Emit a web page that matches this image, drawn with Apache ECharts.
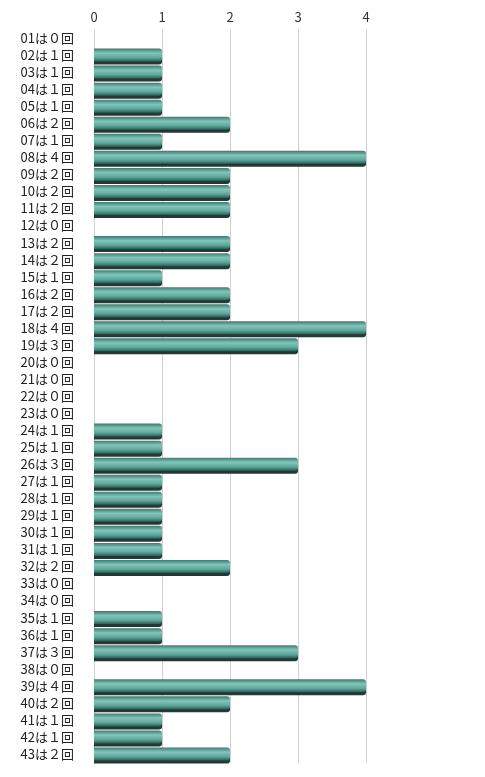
<!DOCTYPE html>
<html lang="ja">
<head>
    <meta charset="UTF-8">
    <title>回数</title>
    <script src="https://cdn.jsdelivr.net/npm/echarts@6/dist/echarts.min.js" type="text/javascript"></script>
</head>
<body style="margin:0;background:#fff;">
<div id="chart" style="width:485px;height:777px;"></div>
<script>
    // 番号と回数
    var nums = ['01','02','03','04','05','06','07','08','09','10','11','12','13','14','15',
        '16','17','18','19','20','21','22','23','24','25','26','27','28','29','30',
        '31','32','33','34','35','36','37','38','39','40','41','42','43'];
    var counts = [0,1,1,1,1,2,1,4,2,2,2,0,2,2,1,
        2,2,4,3,0,0,0,0,1,1,3,1,1,1,1,
        1,2,0,0,1,1,3,0,4,2,1,1,2];
    var ticks = [0,1,2,3,4];

    var zen = ['０','１','２','３','４','５','６','７','８','９'];
    var labels = [];
    for (var i = 0; i < nums.length; i++) {
        labels.push(nums[i] + 'は' + zen[counts[i]] + '回');
    }

    var chart = echarts.init(document.getElementById('chart'));
    chart.setOption({
        animation: false,
        grid: {left: 94, width: 272, top: 29.5, height: 733},
        xAxis: {
            type: 'value',
            position: 'top',
            min: ticks[0],
            max: ticks[ticks.length - 1],
            interval: 1,
            axisLine: {show: false},
            axisTick: {show: false},
            axisLabel: {
                margin: 6,
                fontSize: 13,
                color: '#333',
                fontFamily: 'Noto Sans CJK JP'
            },
            splitLine: {lineStyle: {color: '#cfcfcf', width: 1}}
        },
        yAxis: {
            type: 'category',
            inverse: true,
            data: labels,
            axisLine: {show: false},
            axisTick: {show: false},
            axisLabel: {
                margin: 20,
                fontSize: 13,
                color: '#222',
                fontFamily: 'Noto Sans CJK JP'
            }
        },
        series: [{
            type: 'bar',
            data: counts,
            barWidth: 13,
            itemStyle: {
                borderRadius: [0, 3, 3, 0],
                color: new echarts.graphic.LinearGradient(0, 0, 0, 1, [
                    {offset: 0, color: '#3d7a72'},
                    {offset: 0.35, color: '#80c6b9'},
                    {offset: 0.7, color: '#5ea89b'},
                    {offset: 1, color: '#2e5d57'}
                ]),
                shadowColor: 'rgba(25,45,42,0.95)',
                shadowOffsetY: 3,
                shadowBlur: 0
            }
        }]
    });
</script>
</body>
</html>
